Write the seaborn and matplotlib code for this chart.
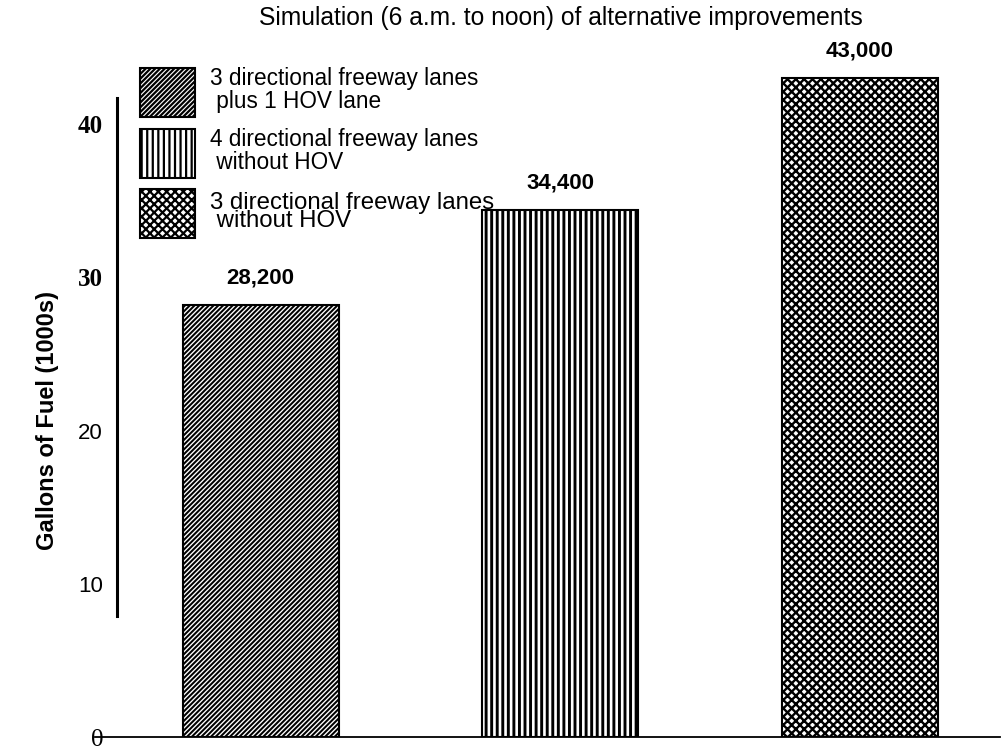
import matplotlib
matplotlib.use("Agg")
import matplotlib.pyplot as plt
import seaborn as sns
import pandas as pd
from matplotlib.font_manager import FontProperties

# ---- data ----
categories = [
    "3 directional freeway lanes\n plus 1 HOV lane",
    "4 directional freeway lanes\n without HOV",
    "3 directional freeway lanes\n without HOV",
]
fuel_thousands = [28.2, 34.4, 43.0]
value_labels = ["28,200", "34,400", "43,000"]
hatches = ["///////", "|||", "xxxx"]
ytick_values = [0, 10, 20, 30, 40]
ytick_labels = ["0", "10", "20", "30", "40"]
title = "Simulation (6 a.m. to noon) of alternative improvements"
ylabel = "Gallons of Fuel (1000s)"

df = pd.DataFrame({"cat": categories, "fuel": fuel_thousands})

sns.set_theme(style="white")
plt.rcParams["font.family"] = ["Liberation Sans", "DejaVu Sans"]
plt.rcParams["hatch.linewidth"] = 1.6
for k in ["text.color", "axes.labelcolor", "xtick.color", "ytick.color"]:
    plt.rcParams[k] = "black"

fig = plt.figure(figsize=(10.01, 7.51), dpi=100)
ax = fig.add_axes([95 / 1001, 14 / 751, 905 / 1001, 677 / 751])

sns.barplot(data=df, x="cat", y="fuel", hue="cat", order=categories,
            hue_order=categories, palette=["white"] * 3, saturation=1,
            width=0.52, edgecolor="black", linewidth=1.5, legend=False, ax=ax)

bars = [c.patches[0] for c in ax.containers]
hatch_lw = [1.45, 2.1, 1.7]
for b, h, lw in zip(bars, hatches, hatch_lw):
    b.set_hatch(h)
    b.set_edgecolor("black")
    if hasattr(b, "set_hatch_linewidth"):
        b.set_hatch_linewidth(lw)

for c, lab in zip(ax.containers, value_labels):
    ax.bar_label(c, labels=[lab], padding=12, fontsize=16, fontweight="bold")

ax.set_xlim(-0.553, 2.467)
ax.set_ylim(0, 44.2)
ax.set_xticks([])
ax.set_xlabel("")

for s in ["top", "right"]:
    ax.spines[s].set_visible(False)
ax.spines["left"].set_position(("axes", 0.0243))
ax.spines["left"].set_bounds(7.9, 41.7)
ax.spines["left"].set_linewidth(2.2)
ax.spines["left"].set_color("black")
ax.spines["bottom"].set_linewidth(1.3)
ax.spines["bottom"].set_color("black")

ax.set_yticks(ytick_values)
ax.set_yticklabels(ytick_labels)
ax.tick_params(axis="y", length=0, pad=10)

serif_bold = FontProperties(family="Liberation Serif", weight="bold", size=18)
serif_reg = FontProperties(family="Liberation Serif", size=18)
sans_reg = FontProperties(family="Liberation Sans", size=16)
props = [serif_reg, sans_reg, sans_reg, serif_bold, serif_bold]
for t, p in zip(ax.get_yticklabels(), props):
    t.set_fontproperties(p)

ax.set_ylabel(ylabel, fontsize=17, fontweight="bold")
ax.yaxis.set_label_coords(-0.040, 0.468)

fig.text(561 / 1001, 1 - 18 / 751, title, ha="center", va="center", fontsize=17.7)

leg = ax.legend(bars, categories, loc="upper left",
                bbox_to_anchor=(140 / 1001, 1 - 67 / 751),
                bbox_transform=fig.transFigure, frameon=False, fontsize=16.3,
                borderpad=0, borderaxespad=0, handlelength=2.43,
                handleheight=2.95, handletextpad=0.65, labelspacing=0.5)
texts = leg.get_texts()
texts[0].set_linespacing(1.0)
texts[1].set_linespacing(1.0)
texts[2].set_fontsize(17.3)
texts[2].set_linespacing(0.8)

fig.savefig("out.png", dpi=100)
